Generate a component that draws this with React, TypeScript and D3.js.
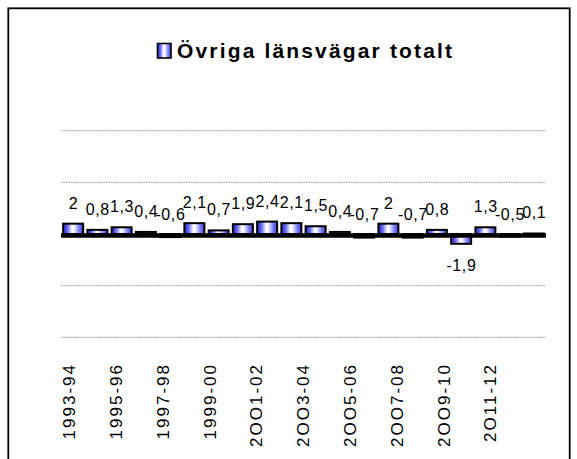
import React from "react";
import * as d3 from "d3";

const title = "Övriga länsvägar totalt";

const categories = [
  "1993-94", "1994-95", "1995-96", "1996-97", "1997-98", "1998-99",
  "1999-00", "2OOO-01", "2OO1-02", "2OO2-03", "2OO3-04", "2OO4-05",
  "2OO5-06", "2OO6-07", "2OO7-08", "2OO8-09", "2OO9-10", "2O1O-11",
  "2O11-12", "2O12-13",
];

const values = [
  2, 0.8, 1.3, 0.4, -0.6, 2.1, 0.7, 1.9, 2.4, 2.1,
  1.5, 0.4, -0.7, 2, -0.7, 0.8, -1.9, 1.3, -0.5, 0.1,
];

const tickLabels = [
  "1993-94", "1995-96", "1997-98", "1999-00", "2OO1-02",
  "2OO3-04", "2OO5-06", "2OO7-08", "2OO9-10", "2O11-12",
];

const gridValues = [-20, -10, 10, 20];

const FONT = "'Liberation Sans', Arial, Helvetica, sans-serif";

export default function App() {
  const x = d3
    .scaleBand<string>()
    .domain(categories)
    .range([61, 546])
    .paddingInner(0.175)
    .paddingOuter(0.0875);

  const xLab = d3
    .scaleBand<string>()
    .domain(categories)
    .range([57.3, 525.3]);

  const y = d3.scaleLinear().domain([-20, 20]).range([337.3, 130.7]);
  const y0 = y(0);

  const fmt = (v: number) => String(v).replace(".", ",");

  return (
    <svg
      width={577}
      height={459}
      style={{ position: "absolute", left: 0, top: 0, background: "#fff" }}
    >
      <defs>
        <linearGradient id="barGrad" x1="0" y1="0" x2="1" y2="0">
          <stop offset="0%" stopColor="#2626c8" />
          <stop offset="22%" stopColor="#6a6af0" />
          <stop offset="45%" stopColor="#ffffff" />
          <stop offset="55%" stopColor="#f4f4ff" />
          <stop offset="80%" stopColor="#7c7cf2" />
          <stop offset="100%" stopColor="#4040dc" />
        </linearGradient>
      </defs>

      {/* frame */}
      <rect x={8.3} y={8.3} width={561.4} height={480} fill="none" stroke="#000" strokeWidth={1.8} />

      {/* title with legend swatch */}
      <rect x={157.5} y={43.5} width={13.5} height={14.5} fill="url(#barGrad)" stroke="#000" strokeWidth={1.6} />
      <text
        x={177}
        y={58}
        fontFamily={FONT}
        fontWeight="bold"
        fontSize={21}
        textLength={275}
        lengthAdjust="spacing"
        fill="#000"
      >
        {title}
      </text>

      {/* gridlines */}
      {gridValues.map((g) => (
        <line
          key={g}
          x1={61}
          x2={546}
          y1={y(g)}
          y2={y(g)}
          stroke="#999"
          strokeWidth={1}
          strokeDasharray="1.5,1"
        />
      ))}

      {/* bars */}
      {categories.map((c, i) => {
        const v = values[i];
        const top = Math.min(y(v), y0);
        const h = Math.abs(y(v) - y0);
        return (
          <rect
            key={c}
            x={x(c)!}
            y={top}
            width={x.bandwidth()}
            height={h}
            fill="url(#barGrad)"
            stroke="#000"
            strokeWidth={2}
          />
        );
      })}

      {/* zero axis line */}
      <line x1={61} x2={546} y1={y0 + 1.5} y2={y0 + 1.5} stroke="#000" strokeWidth={4.4} />

      {/* data labels */}
      {categories.map((c, i) => {
        const v = values[i];
        const cx = x(c)! + x.bandwidth() / 2;
        let by: number;
        if (v >= 0) by = y(v) - 15;
        else if (v > -1) by = y0 - 14;
        else by = y(v) + 27;
        return (
          <text
            key={c}
            x={cx + 0.3}
            y={by}
            textAnchor="middle"
            fontFamily={FONT}
            fontSize={16}
            letterSpacing={0.6}
            fill="#000"
          >
            {fmt(v)}
          </text>
        );
      })}

      {/* x tick labels */}
      {tickLabels.map((t) => {
        const cx = xLab(t)! + xLab.bandwidth() / 2;
        return (
          <text
            key={t}
            transform={`translate(${cx + 6.1},${363}) rotate(-90)`}
            textAnchor="end"
            fontFamily={FONT}
            fontSize={17}
            letterSpacing={2}
            fill="#000"
          >
            {t}
          </text>
        );
      })}
    </svg>
  );
}
